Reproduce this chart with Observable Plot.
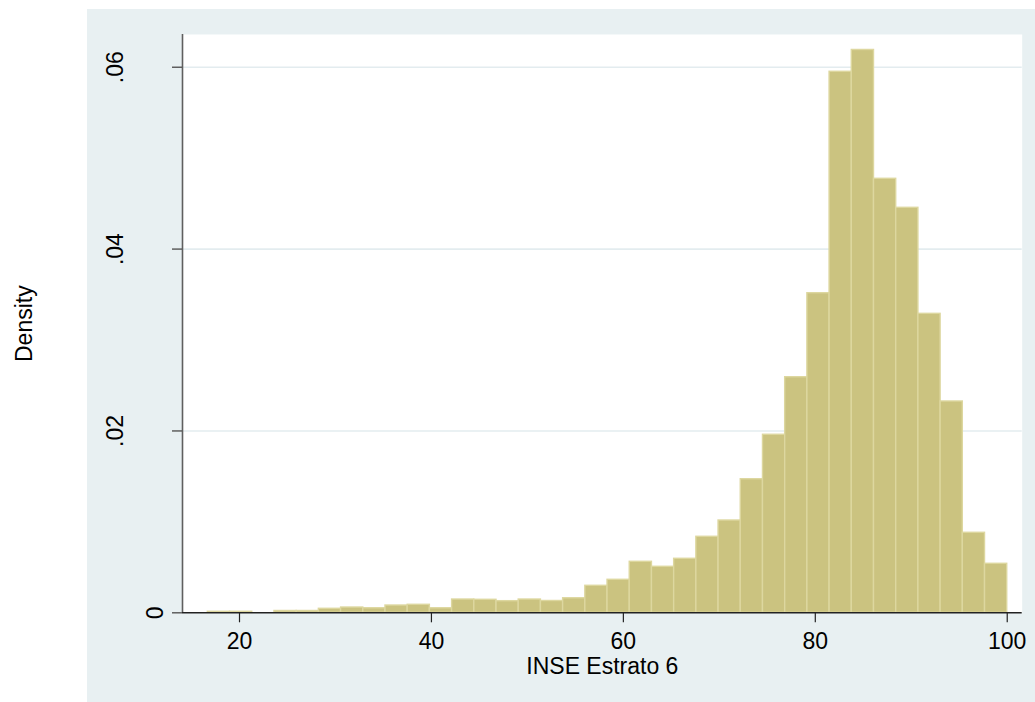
<!DOCTYPE html>
<html>
<head>
<meta charset="utf-8">
<script src="https://cdn.jsdelivr.net/npm/d3@7"></script>
<script src="https://cdn.jsdelivr.net/npm/@observablehq/plot@0.6"></script>
<style>
  html, body { margin: 0; padding: 0; background: #ffffff; }
  #wrap { position: relative; width: 1035px; height: 702px; background: #ffffff; overflow: hidden; }
  #panel { position: absolute; left: 87px; top: 9px; right: 0; bottom: 0; background: #e8f0f2; }
  #chart { position: absolute; left: 0; top: 0; }
</style>
</head>
<body>
<div id="wrap"><div id="panel"></div><div id="chart"></div></div>
<script>
// ---- data ----
const binMin = 16.70;       // lower edge of first bin
const binMax = 100;         // upper edge of last bin
const densities = [
  0.00011, 0.00011, 0.0, 0.00020, 0.00020, 0.00044, 0.00058, 0.00050, 0.00080,
  0.00088, 0.00050, 0.00146, 0.00143, 0.00128, 0.00146, 0.00130, 0.00160, 0.00297,
  0.00363, 0.00561, 0.00506, 0.00594, 0.00836, 0.01015, 0.01469, 0.01958, 0.02591,
  0.03515, 0.05950, 0.06190, 0.04773, 0.04454, 0.03288, 0.02324, 0.00880, 0.00539
];
const xTicks = [20, 40, 60, 80, 100];
const yTicks = [0.02, 0.04, 0.06];
const yTickLabels = [".02", ".04", ".06"];
const yZeroTick = [0];
const yZeroLabel = ["0"];
const xTitle = "INSE Estrato 6";
const yTitle = "Density";
const xDomain = [14.06, 101.56];
const yDomain = [0, 0.0636];

// ---- build bins table ----
const nBins = densities.length;
const binW = (binMax - binMin) / nBins;
const bins = densities.map((d, i) => ({x1: binMin + i * binW, x2: binMin + (i + 1) * binW, density: d}));

const font = "'Liberation Sans', Arial, Helvetica, sans-serif";

const chart = Plot.plot({
  width: 1035,
  height: 702,
  marginLeft: 182,
  marginTop: 34,
  marginRight: 13.3,
  marginBottom: 89.7,
  style: {background: "transparent", fontFamily: font, fontSize: "23px", color: "#000"},
  x: {domain: xDomain, axis: null},
  y: {domain: yDomain, axis: null},
  marks: [
    Plot.frame({fill: "#ffffff"}),
    Plot.gridY(yTicks, {stroke: "#e3ecef", strokeOpacity: 1, strokeWidth: 1.6}),
    Plot.rectY(bins, {x1: "x1", x2: "x2", y: "density", fill: "#cbc380", stroke: "#ddd79f", strokeWidth: 1.4, inset: 0}),
    Plot.ruleX([xDomain[0]], {stroke: "#5f5f5f", strokeWidth: 1.6}),
    Plot.ruleY([0], {stroke: "#222", strokeWidth: 1.4}),
    Plot.axisX(xTicks, {anchor: "bottom", tickSize: 10, tickPadding: 10, fontSize: 23, label: null, stroke: "#222", fill: "#000", strokeWidth: 1.2}),
    Plot.axisY(yTicks, {anchor: "left", tickSize: 10, tickPadding: 50, tickRotate: -90, fontSize: 23, label: null,
      tickFormat: (d) => yTickLabels[yTicks.indexOf(d)], stroke: "#555", fill: "#000", strokeWidth: 1.4}),
    Plot.axisY(yZeroTick, {anchor: "left", tickSize: 10, tickPadding: 10, tickRotate: -90, fontSize: 23, label: null,
      tickFormat: (d) => yZeroLabel[yZeroTick.indexOf(d)], stroke: "#555", fill: "#000", strokeWidth: 1.4}),
    Plot.text([xTitle], {frameAnchor: "bottom", dy: 44.7, lineAnchor: "top", textAnchor: "middle", fontSize: 23, fill: "#000"}),
    Plot.text([yTitle], {frameAnchor: "left", dx: -167, rotate: -90, lineAnchor: "top", textAnchor: "middle", fontSize: 23, fill: "#000"})
  ]
});
document.getElementById("chart").appendChild(chart);
</script>
</body>
</html>
